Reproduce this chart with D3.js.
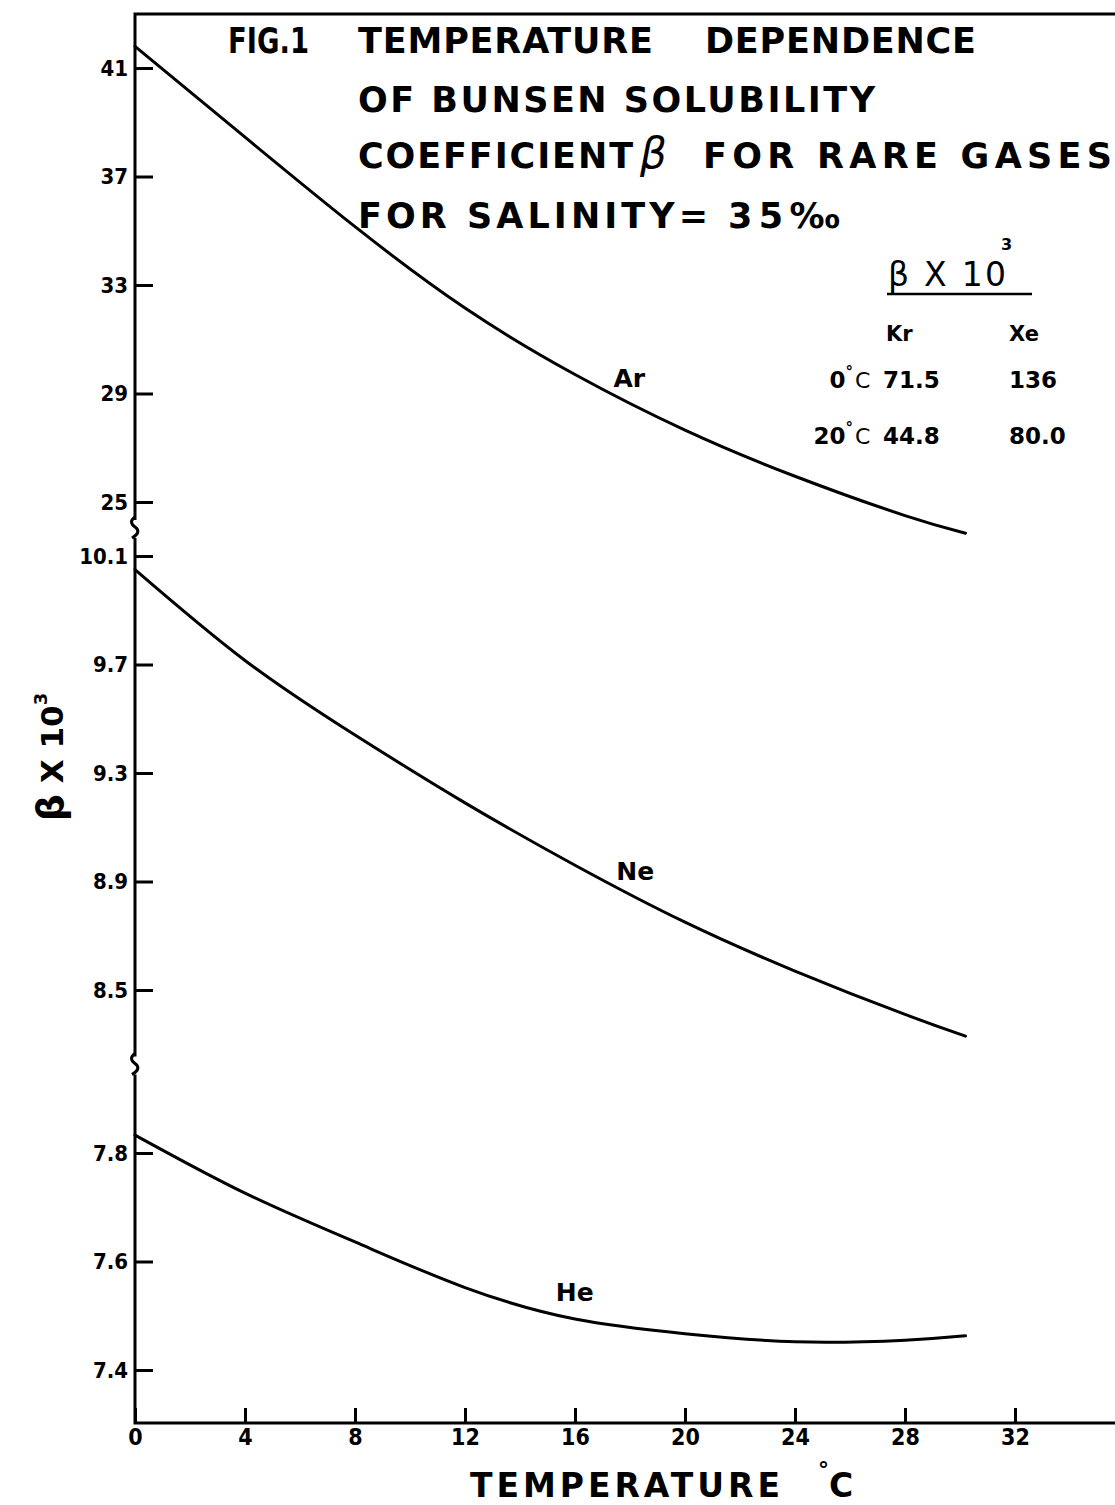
<!DOCTYPE html>
<html>
<head>
<meta charset="utf-8">
<script src="https://cdn.jsdelivr.net/npm/d3@7"></script>
<style>
  body { margin: 0; background: #fff; }
  svg text { font-family: "DejaVu Sans", sans-serif; fill: #000; }
  .tick line { stroke: #000; stroke-width: 3; }
  .tick text { font-family: "DejaVu Sans Condensed", "DejaVu Sans", sans-serif; font-weight: bold; font-size: 22px; }
</style>
</head>
<body>
<svg id="chart" width="1115" height="1505"></svg>
<script>

var temps  = [0, 4, 8, 12, 16, 20, 24, 28, 30.2];
var argon  = [41.8, 38.45, 35.15, 32.15, 29.7, 27.65, 25.95, 24.5, 23.85];
var neon   = [10.05, 9.715, 9.44, 9.19, 8.96, 8.75, 8.57, 8.41, 8.33];
var helium = [7.833, 7.726, 7.636, 7.552, 7.494, 7.467, 7.452, 7.455, 7.463];

var xTicks  = [0, 4, 8, 12, 16, 20, 24, 28, 32];
var arTicks = [41, 37, 33, 29, 25];
var neTicks = [10.1, 9.7, 9.3, 8.9, 8.5];
var heTicks = [7.8, 7.6, 7.4];

// tabel rechtsboven
var tableCols = ["Kr", "Xe"];
var tableRows = ["0", "20"];
var krValues  = ["71.5", "44.8"];
var xeValues  = ["136", "80.0"];

var svg = d3.select("#chart");

// scales: een x-as en drie gebroken y-assen
var x   = d3.scaleLinear().domain([0, 32]).range([135, 1015]);
var yAr = d3.scaleLinear().domain([25, 41]).range([502, 68]);
var yNe = d3.scaleLinear().domain([8.5, 10.1]).range([990, 556]);
var yHe = d3.scaleLinear().domain([7.4, 7.8]).range([1370, 1153]);

var axisLeftX = x(0), axisBottomY = 1423, frameTopY = 14;

// frame: bovenlijn, y-as en x-as
svg.append("path")
  .attr("d", "M1115," + frameTopY + "H" + axisLeftX + "V" + axisBottomY + "H1115")
  .attr("fill", "none")
  .attr("stroke", "#000")
  .attr("stroke-width", 3);

// y-assen
function yAxis(scale, ticks, fmt) {
  var g = svg.append("g")
    .attr("transform", "translate(" + axisLeftX + ",0)")
    .call(d3.axisLeft(scale).tickValues(ticks).tickSize(-18).tickPadding(7).tickFormat(fmt));
  g.select(".domain").remove();
}
yAxis(yAr, arTicks, d3.format("d"));
yAxis(yNe, neTicks, d3.format(".1f"));
yAxis(yHe, heTicks, d3.format(".1f"));

// x-as
var gx = svg.append("g")
  .attr("transform", "translate(0," + axisBottomY + ")")
  .call(d3.axisBottom(x).tickValues(xTicks).tickSize(-15).tickPadding(6));
gx.select(".domain").remove();
gx.selectAll(".tick text").style("font-size", "23px");

// breuktekens op de y-as
var breaks = [(yAr.range()[0] + yNe.range()[1]) / 2, (yNe.range()[0] + yHe.range()[1]) / 2 - 6];
breaks.forEach(function(b) {
  svg.append("rect").attr("x", axisLeftX - 3).attr("y", b - 9).attr("width", 6).attr("height", 18).attr("fill", "#fff");
  svg.append("path")
    .attr("d", "M" + axisLeftX + "," + (b - 12) + " q-7,5 0,10 q7,5 -3,11")
    .attr("fill", "none").attr("stroke", "#000").attr("stroke-width", 3);
});

// curves
var series = [
  { name: "Ar", values: argon,  y: yAr, lt: 17.4, lv: 29.24 },
  { name: "Ne", values: neon,   y: yNe, lt: 17.5, lv: 8.907 },
  { name: "He", values: helium, y: yHe, lt: 15.3, lv: 7.528 }
];

series.forEach(function(s) {
  var line = d3.line()
    .x(function(d, i) { return x(temps[i]); })
    .y(function(d) { return s.y(d); })
    .curve(d3.curveNatural);

  svg.append("path")
    .datum(s.values)
    .attr("d", line)
    .attr("fill", "none")
    .attr("stroke", "#000")
    .attr("stroke-width", 3)
    .attr("stroke-linecap", "round");

  svg.append("text")
    .attr("x", x(s.lt))
    .attr("y", s.y(s.lv))
    .style("font-weight", "bold")
    .style("font-size", "25px")
    .text(s.name);
});

// titel
var title = [
  { t: "FIG.1", x: 228, y: 53, w: 81 },
  { t: "TEMPERATURE", x: 358, y: 53, w: 295 },
  { t: "DEPENDENCE", x: 705, y: 53, w: 271 },
  { t: "OF BUNSEN  SOLUBILITY", x: 358, y: 112, w: 517 },
  { t: "COEFFICIENT", x: 358, y: 168, w: 275 },
  { t: "FOR RARE GASES", x: 703, y: 168, w: 409 },
  { t: "FOR SALINITY=", x: 358, y: 228, w: 350 },
  { t: "35‰", x: 728, y: 228, w: 112 }
];
svg.selectAll(".title")
  .data(title)
  .enter().append("text")
    .attr("class", "title")
    .attr("x", function(d) { return d.x; })
    .attr("y", function(d) { return d.y; })
    .attr("textLength", function(d) { return d.w; })
    .attr("lengthAdjust", function(d) { return d.t == "FIG.1" ? "spacingAndGlyphs" : "spacing"; })
    .style("font-size", "35px")
    .style("font-weight", "bold")
    .text(function(d) { return d.t; });

svg.append("text")
  .attr("x", 640).attr("y", 168)
  .style("font-size", "42px").style("font-style", "italic")
  .text("β");

// tabel beta x 10^3
svg.append("text")
  .attr("x", 888).attr("y", 286)
  .attr("textLength", 118).attr("lengthAdjust", "spacing")
  .style("font-size", "33px")
  .text("β X 10");
svg.append("text")
  .attr("x", 1001).attr("y", 250)
  .style("font-size", "16px").style("font-weight", "bold")
  .text("3");
svg.append("line")
  .attr("x1", 887).attr("x2", 1032).attr("y1", 294).attr("y2", 294)
  .attr("stroke", "#000").attr("stroke-width", 2.5);

var colX = d3.scaleOrdinal().domain(tableCols).range([886, 1009]);
var rowY = d3.scalePoint().domain(tableRows).range([388, 444]);

svg.selectAll(".colhead")
  .data(tableCols)
  .enter().append("text")
    .attr("x", function(d) { return colX(d); })
    .attr("y", 341)
    .style("font-size", "21px").style("font-weight", "bold")
    .text(function(d) { return d; });

tableRows.forEach(function(r, i) {
  var g = svg.append("text")
    .attr("x", 853).attr("y", rowY(r))
    .attr("text-anchor", "end")
    .style("font-size", "23px").style("font-weight", "bold");
  g.append("tspan").text(r);
  g.append("tspan").attr("dy", -11).style("font-size", "15px").text("°");

  svg.append("text")
    .attr("x", 855).attr("y", rowY(r))
    .style("font-size", "22px")
    .text("C");
  svg.append("text")
    .attr("x", colX("Kr") - 3).attr("y", rowY(r))
    .style("font-size", "23px").style("font-weight", "bold")
    .text(krValues[i]);
  svg.append("text")
    .attr("x", colX("Xe")).attr("y", rowY(r))
    .style("font-size", "23px").style("font-weight", "bold")
    .text(xeValues[i]);
});

// as-titels
var yt = svg.append("text")
  .attr("transform", "translate(63,757) rotate(-90)")
  .attr("text-anchor", "middle")
  .style("font-size", "31px").style("font-weight", "bold");
yt.append("tspan").style("font-size", "38px").text("β");
yt.append("tspan").text(" X 10");
yt.append("tspan").attr("dy", -16).style("font-size", "18px").text("3");

svg.append("text")
  .attr("x", 470).attr("y", 1497)
  .attr("textLength", 310).attr("lengthAdjust", "spacing")
  .style("font-size", "33px").style("font-weight", "bold")
  .text("TEMPERATURE");
svg.append("text")
  .attr("x", 818).attr("y", 1477)
  .style("font-size", "22px").style("font-weight", "bold")
  .text("°");
svg.append("text")
  .attr("x", 829).attr("y", 1497)
  .style("font-size", "33px").style("font-weight", "bold")
  .text("C");

</script>
</body>
</html>
